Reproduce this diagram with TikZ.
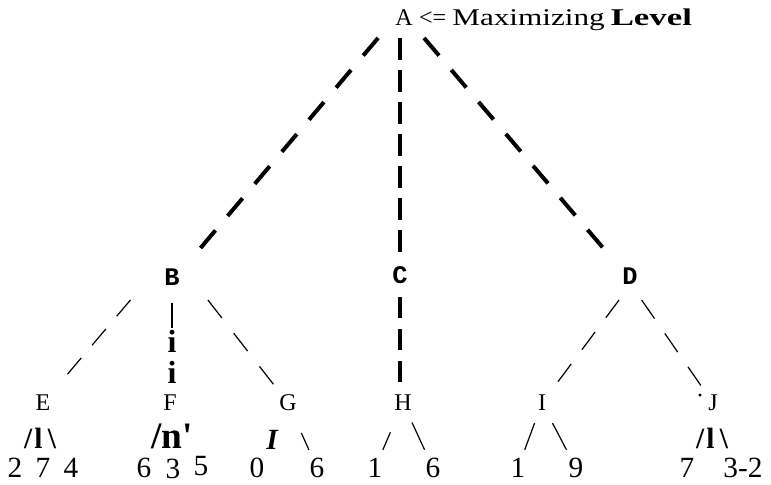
\documentclass[tikz,border=0pt]{standalone}
\usepackage{fontspec}
\setmainfont{Liberation Serif}
\newfontfamily\tagfont{Liberation Mono}
\usetikzlibrary{calc}

\begin{document}
\begin{tikzpicture}[x=0.75pt,y=-0.75pt,
every node/.style={inner sep=0pt,font=\fontsize{18}{18}\selectfont},
inner/.style={font=\fontsize{19}{19}\selectfont\tagfont\bfseries},
leaf/.style={font=\fontsize{22}{22}\selectfont},
frag/.style={font=\fontsize{22}{22}\selectfont\bfseries},
maxedge/.style={line width=3pt},
minedge/.style={line width=0.9pt}]
\useasboundingbox (0,0) rectangle (771,485);
% root and its remark
\node (A) at (404,18) {A};
\node[anchor=base west] (Atext) at ([xshift=4.5pt]A.base east)
  {<= \scalebox{1.3}[1]{Maximizing} \scalebox{1.45}[1]{\textbf{Level}}};
% second level
\node[inner] (B) at (172,277) {B};
\node[inner] (C) at (400,275) {C};
\node[inner] (D) at (630,276) {D};
% third level
\node (E) at (43,403) {E};
\node (F) at (170,403) {F};
\node (G) at (288,403) {G};
\node (H) at (403,403) {H};
\node (I) at (542,403) {I};
\node (J) at (713,403) {J};
\node (Jdot) at (700,399) {·};
% leaves
\node[leaf] (E1) at (15,468) {2};
\node[leaf] (E2) at (43,468) {7};
\node[leaf] (E3) at (71,468) {4};
\node[leaf] (F1) at (144,468) {6};
\node[leaf] (F2) at (173,469) {3};
\node[leaf] (F3) at (201,466) {5};
\node[leaf] (G1) at (257,468) {0};
\node[leaf] (G2) at (317,468) {6};
\node[leaf] (H1) at (375,468) {1};
\node[leaf] (H2) at (433,468) {6};
\node[leaf] (I1) at (518,468) {1};
\node[leaf] (I2) at (576,468) {9};
\node[leaf] (J1) at (687,468) {7};
\node[leaf] (J2) at (743,468) {3-2};
% broken strokes
\node[frag,font=\fontsize{24}{24}\selectfont\bfseries] (Fi1) at (172,341) {i};
\node[frag,font=\fontsize{24}{24}\selectfont\bfseries] (Fi2) at (172,372) {i};
\node[frag] (Ef) at (40,438) {/\kern1.5pt l\kern4pt\textbackslash};
\node[frag,font=\fontsize{28}{28}\selectfont\bfseries] (Ff) at (172,436) {/n\textquotesingle};
\node[frag,font=\fontsize{22}{22}\selectfont\bfseries\itshape] (Gf) at (272,440) {I};
\node[frag] (Jf) at (712,438) {/\kern1.5pt l\kern4pt\textbackslash};
% edges from the root
\draw[maxedge,dash pattern=on 17.3pt off 14.2pt,shorten <=19.6pt,shorten >=23.6pt]
  ([xshift=-6.75pt]A.center) -- ([xshift=3pt]B.center);
\draw[maxedge,dash pattern=on 16.5pt off 7.5pt,shorten <=15pt,shorten >=16.5pt]
  (C |- A.center) -- (C.center);
\draw[maxedge,dash pattern=on 17.3pt off 14.2pt,shorten <=19.7pt,shorten >=22.7pt]
  ([xshift=2.25pt]A.center) -- ([xshift=-2.25pt]D.center);
\draw[maxedge,dash pattern=on 15.5pt off 8.5pt,shorten <=16.5pt,shorten >=15.75pt]
  (C.center) -- (C |- H.center);
% edges below B and D
\draw[minedge,dash pattern=on 16pt off 12.5pt,shorten <=22.6pt,shorten >=24.5pt]
  ([xshift=-16.5pt]B.center) -- (E.center);
\draw[minedge,shorten <=13pt,shorten >=1.5pt] (B.south) -- (Fi1.north);
\draw[minedge,dash pattern=on 17pt off 14.5pt,shorten <=21.9pt,shorten >=14.3pt]
  ([xshift=13.5pt]B.center) -- (G.center);
\draw[minedge,dash pattern=on 16.5pt off 13.5pt,shorten <=22.5pt,shorten >=19.7pt]
  ([xshift=5.25pt]D.center) -- (I.center);
\draw[minedge,dash pattern=on 17pt off 13.5pt,shorten <=21.9pt,shorten >=14.6pt]
  ([xshift=-3.75pt]D.center) -- (J.center);
% short strokes to the leaves
\draw[minedge] ($(G)!0.46!(G2)$) -- ($(G)!0.72!(G2)$);
\draw[minedge] ($(H)!0.45!(H1)$) -- ($(H)!0.72!(H1)$);
\draw[minedge] ($(H)!0.3!(H2)$) -- ($(H)!0.72!(H2)$);
\draw[minedge] ($(I)!0.31!(I1)$) -- ($(I)!0.72!(I1)$);
\draw[minedge] ($(I)!0.31!(I2)$) -- ($(I)!0.72!(I2)$);
\end{tikzpicture}
\end{document}
